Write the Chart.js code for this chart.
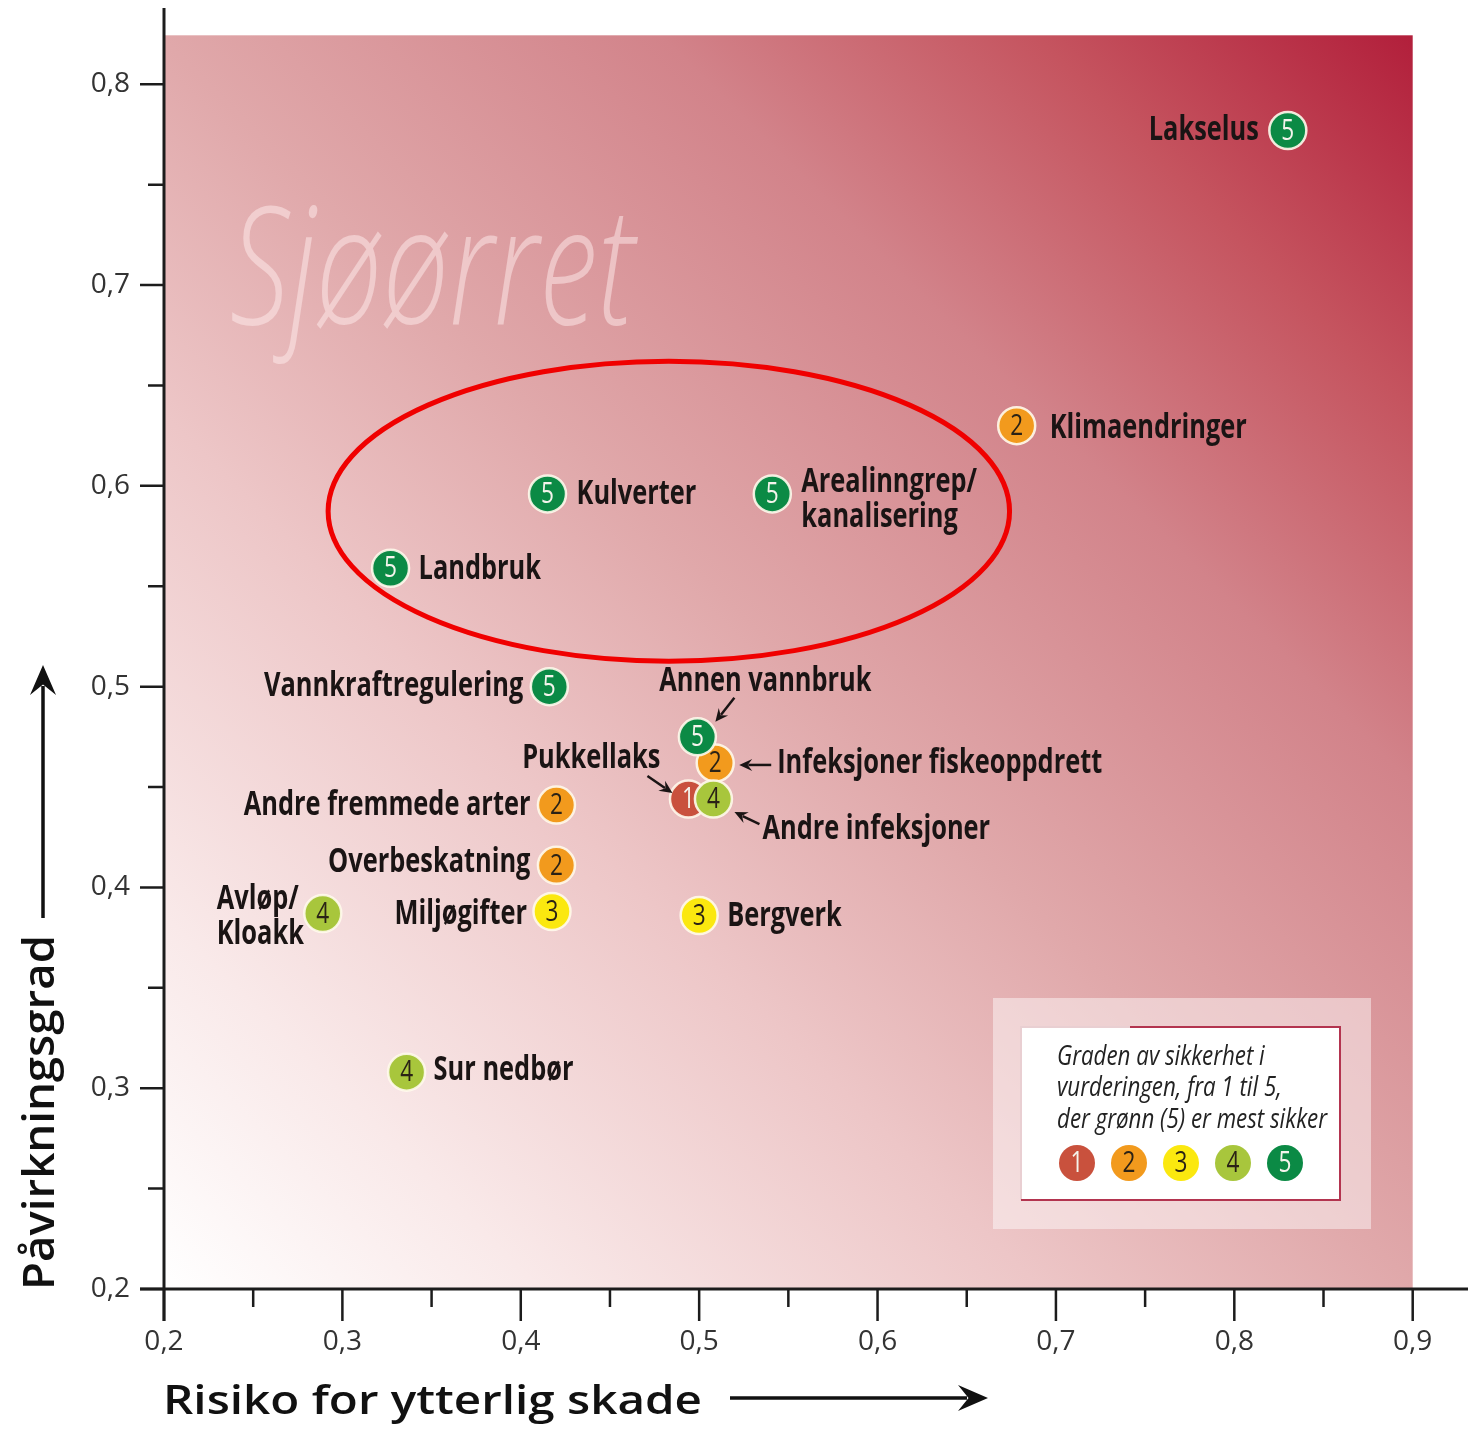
<!DOCTYPE html>
<html>
<head>
<meta charset="utf-8">
<script src="https://cdn.jsdelivr.net/npm/chart.js@4.4.1/dist/chart.umd.min.js"></script>
<style>
  html, body { margin: 0; padding: 0; background: #fff; }
  #chart { display: block; }
</style>
</head>
<body>
<canvas id="chart" width="1468" height="1430"></canvas>
<script>
// --- Data ---
const xTicks = [0.2, 0.3, 0.4, 0.5, 0.6, 0.7, 0.8, 0.9];
const yTicks = [0.2, 0.3, 0.4, 0.5, 0.6, 0.7, 0.8];

const names = [
  'Lakselus', 'Klimaendringer', 'Kulverter', 'Arealinngrep/\nkanalisering', 'Landbruk',
  'Vannkraftregulering', 'Infeksjoner fiskeoppdrett', 'Annen vannbruk', 'Pukkellaks',
  'Andre infeksjoner', 'Andre fremmede arter', 'Overbeskatning', 'Avløp/\nKloakk',
  'Miljøgifter', 'Bergverk', 'Sur nedbør'
];
const risiko = [0.830, 0.678, 0.415, 0.541, 0.327, 0.416, 0.509, 0.499, 0.494, 0.508, 0.420, 0.420, 0.289, 0.4175, 0.500, 0.336];
const pavirkning = [0.777, 0.630, 0.596, 0.596, 0.559, 0.500, 0.462, 0.475, 0.444, 0.444, 0.441, 0.411, 0.387, 0.388, 0.386, 0.308];
const sikkerhet = [5, 2, 5, 5, 5, 5, 2, 5, 1, 4, 2, 2, 4, 3, 3, 4];

const gradeColors = ['#c9513d', '#f29a1d', '#fbe80f', '#a8c63c', '#0b8a45'];
const legendLines = ['Graden av sikkerhet i', 'vurderingen, fra 1 til 5,', 'der grønn (5) er mest sikker'];

const xTitle = 'Risiko for ytterlig skade';
const yTitle = 'Påvirkningsgrad';
const watermark = 'Sjøørret';

// markert område (ellipse), i dataenheter
const ellipse = { x: 0.483, y: 0.5874, rx: 0.191, ry: 0.0747 };

// --- Plassering av etiketter (piksler relativt til punktet) ---
const labelPos = {
  'Lakselus': { dx: -29, dy: 0, align: 'right' },
  'Klimaendringer': { dx: 33, dy: 3, align: 'left' },
  'Kulverter': { dx: 29, dy: 0, align: 'left' },
  'Arealinngrep/\nkanalisering': { dx: 29, dy: -12, align: 'left' },
  'Landbruk': { dx: 28, dy: 1, align: 'left' },
  'Vannkraftregulering': { dx: -26, dy: 0, align: 'right' },
  'Infeksjoner fiskeoppdrett': { dx: 62, dy: 0, align: 'left', arrow: [56, 2, 24, 2] },
  'Annen vannbruk': { dx: 68, dy: -56, align: 'center', arrow: [37, -39, 18, -15] },
  'Pukkellaks': { dx: -28, dy: -41, align: 'right', arrow: [-41, -23, -16, -6] },
  'Andre infeksjoner': { dx: 49, dy: 30, align: 'left', arrow: [46, 25, 21, 13] },
  'Andre fremmede arter': { dx: -26, dy: 0, align: 'right' },
  'Overbeskatning': { dx: -26, dy: -3, align: 'right' },
  'Avløp/\nKloakk': { dx: -106, dy: -14, align: 'left' },
  'Miljøgifter': { dx: -25, dy: 3, align: 'right' },
  'Bergverk': { dx: 28, dy: 1, align: 'left' },
  'Sur nedbør': { dx: 27, dy: -2, align: 'left' }
};

const fmt = v => v.toFixed(1).replace('.', ',');

// Tegner tekst med horisontal skalering (for å etterligne smal skrift)
function drawText(ctx, text, x, y, font, align, sx, color) {
  ctx.save();
  ctx.font = font;
  ctx.fillStyle = color;
  ctx.textAlign = align;
  ctx.textBaseline = 'middle';
  ctx.translate(x, y);
  ctx.scale(sx, 1);
  ctx.fillText(text, 0, 0);
  ctx.restore();
}

function fitScale(ctx, font, text, width) {
  ctx.save();
  ctx.font = font;
  const w = ctx.measureText(text).width;
  ctx.restore();
  return width / w;
}

function drawArrow(ctx, x1, y1, x2, y2, head, half, lw) {
  const a = Math.atan2(y2 - y1, x2 - x1);
  const c = Math.cos(a), s = Math.sin(a);
  ctx.lineWidth = lw;
  ctx.beginPath();
  ctx.moveTo(x1, y1);
  ctx.lineTo(x2 - c * head * 0.7, y2 - s * head * 0.7);
  ctx.stroke();
  ctx.beginPath();
  ctx.moveTo(x2, y2);
  ctx.lineTo(x2 - c * head + s * half, y2 - s * head - c * half);
  ctx.lineTo(x2 - c * head * 0.65, y2 - s * head * 0.65);
  ctx.lineTo(x2 - c * head - s * half, y2 - s * head + c * half);
  ctx.closePath();
  ctx.fill();
}

function drawBadge(ctx, x, y, grade, r) {
  ctx.save();
  ctx.beginPath();
  ctx.arc(x, y, r, 0, Math.PI * 2);
  ctx.fillStyle = gradeColors[grade - 1];
  ctx.fill();
  ctx.restore();
  drawNumber(ctx, x, y, grade);
}

function drawNumber(ctx, x, y, grade) {
  const col = (grade === 1 || grade === 5) ? '#f4f4ec' : '#2a2216';
  drawText(ctx, String(grade), x, y + 1, "29px 'Open Sans'", 'center', 0.78, col);
}

const LABEL_FONT = "bold 34px 'Open Sans'";

// hindrer at Chart.js legger til ekstra marg rundt plottområdet
function pinScale(s, prop, size) {
  s[prop] = size;
  s.paddingTop = 0; s.paddingBottom = 0; s.paddingLeft = 0; s.paddingRight = 0;
}

const decor = {
  id: 'decor',
  beforeDatasetsDraw(chart) {
    const { ctx, scales: { x, y } } = chart;
    const l = x.getPixelForValue(0.2), r = x.getPixelForValue(0.9);
    const b = y.getPixelForValue(0.2), t = y.getPixelForValue(0.8244);

    // bakgrunnsgradient
    const g = ctx.createLinearGradient(l, b, r, t);
    g.addColorStop(0, '#ffffff');
    g.addColorStop(0.15, '#f9e9e9');
    g.addColorStop(0.35, '#edc6c7');
    g.addColorStop(0.5, '#e0a8aa');
    g.addColorStop(0.7, '#d2838a');
    g.addColorStop(0.85, '#c5545f');
    g.addColorStop(1, '#b21f3b');
    ctx.save();
    ctx.fillStyle = g;
    ctx.fillRect(l, t, r - l, b - t);

    // vannmerke
    const wmFont = "italic 300 164px 'Open Sans'";
    const sx = fitScale(ctx, wmFont, watermark, 405);
    ctx.font = wmFont;
    ctx.fillStyle = 'rgba(255, 238, 238, 0.5)';
    ctx.textBaseline = 'alphabetic';
    ctx.translate(230, 324);
    ctx.scale(sx, 1);
    ctx.fillText(watermark, 0, 0);
    ctx.restore();

    // rød ellipse
    ctx.save();
    const cx = x.getPixelForValue(ellipse.x), cy = y.getPixelForValue(ellipse.y);
    const rx = x.getPixelForValue(ellipse.x + ellipse.rx) - cx;
    const ry = cy - y.getPixelForValue(ellipse.y + ellipse.ry);
    ctx.beginPath();
    ctx.ellipse(cx, cy, rx, ry, 0, 0, Math.PI * 2);
    ctx.strokeStyle = '#f00000';
    ctx.lineWidth = 5;
    ctx.stroke();
    ctx.restore();

    // forklaringsboks
    ctx.save();
    ctx.fillStyle = 'rgba(255,255,255,0.45)';
    ctx.fillRect(993, 998, 378, 231);
    ctx.fillStyle = '#ffffff';
    ctx.fillRect(1021, 1027, 319, 173);
    ctx.lineWidth = 2;
    ctx.strokeStyle = '#e9cfd2';
    ctx.beginPath();
    ctx.moveTo(1021, 1200); ctx.lineTo(1021, 1027); ctx.lineTo(1130, 1027);
    ctx.stroke();
    ctx.strokeStyle = '#b3344f';
    ctx.beginPath();
    ctx.moveTo(1130, 1027); ctx.lineTo(1340, 1027); ctx.lineTo(1340, 1200); ctx.lineTo(1021, 1200);
    ctx.stroke();
    ctx.restore();

    const lgFont = "italic 27px 'Open Sans'";
    const lsx = fitScale(ctx, lgFont, legendLines[2], 270);
    legendLines.forEach((txt, i) => {
      drawText(ctx, txt, 1057, 1057 + i * 31.5, lgFont, 'left', lsx, '#222');
    });
    gradeColors.forEach((c, i) => drawBadge(ctx, 1077 + i * 52, 1163, i + 1, 18));
  },

  afterDatasetsDraw(chart) {
    const { ctx } = chart;
    const meta = chart.getDatasetMeta(0);
    const lsx = fitScale(ctx, LABEL_FONT, 'Infeksjoner fiskeoppdrett', 325);
    ctx.save();
    ctx.fillStyle = '#1a1414';
    ctx.strokeStyle = '#1a1414';
    meta.data.forEach((pt, i) => {
      drawNumber(ctx, pt.x, pt.y, sikkerhet[i]);
      const p = labelPos[names[i]];
      if (!p) return;
      names[i].split('\n').forEach((line, k) => {
        drawText(ctx, line, pt.x + p.dx, pt.y + p.dy + k * 35, LABEL_FONT, p.align, lsx, '#1a1414');
      });
      if (p.arrow) {
        const a = p.arrow;
        drawArrow(ctx, pt.x + a[0], pt.y + a[1], pt.x + a[2], pt.y + a[3], 13, 6, 2.5);
      }
    });
    ctx.restore();
  },

  afterDraw(chart) {
    const { ctx, scales: { x, y } } = chart;
    const x0 = x.getPixelForValue(xTicks[0]);
    const y0 = y.getPixelForValue(yTicks[0]);
    ctx.save();
    ctx.strokeStyle = '#1c1c1c';
    ctx.fillStyle = '#111';
    ctx.lineWidth = 3;
    // akser
    ctx.beginPath();
    ctx.moveTo(x0, chart.chartArea.top);
    ctx.lineTo(x0, y0 + 32);
    ctx.moveTo(x0 - 24, y0);
    ctx.lineTo(chart.chartArea.right, y0);
    ctx.stroke();
    // hake-merker
    ctx.lineWidth = 2.5;
    ctx.beginPath();
    yTicks.forEach((v, i) => {
      const py = y.getPixelForValue(v);
      ctx.moveTo(x0 - 24, py); ctx.lineTo(x0, py);
      if (i < yTicks.length - 1) {
        const pm = y.getPixelForValue((v + yTicks[i + 1]) / 2);
        ctx.moveTo(x0 - 16, pm); ctx.lineTo(x0, pm);
      }
    });
    xTicks.forEach((v, i) => {
      const px = x.getPixelForValue(v);
      ctx.moveTo(px, y0); ctx.lineTo(px, y0 + 32);
      if (i < xTicks.length - 1) {
        const pm = x.getPixelForValue((v + xTicks[i + 1]) / 2);
        ctx.moveTo(pm, y0); ctx.lineTo(pm, y0 + 18);
      }
    });
    ctx.stroke();
    ctx.restore();

    // aksetitler med piler
    const xtFont = "600 40px 'Open Sans'";
    drawText(ctx, xTitle, 163, 1403, xtFont, 'left', fitScale(ctx, xtFont, xTitle, 539), '#111');
    ctx.save();
    ctx.strokeStyle = '#111';
    ctx.fillStyle = '#111';
    drawArrow(ctx, 730, 1398, 988, 1398, 30, 13, 3.5);
    drawArrow(ctx, 43, 918, 43, 665, 30, 13, 3.5);
    ctx.restore();

    const ytFont = "600 44px 'Open Sans'";
    ctx.save();
    ctx.translate(41, 1290);
    ctx.rotate(-Math.PI / 2);
    drawText(ctx, yTitle, 0, 0, ytFont, 'left', fitScale(ctx, ytFont, yTitle, 355), '#111');
    ctx.restore();
  }
};

new Chart(document.getElementById('chart'), {
  type: 'scatter',
  data: {
    datasets: [{
      label: 'Påvirkninger',
      data: risiko.map((v, i) => ({ x: v, y: pavirkning[i] })),
      backgroundColor: sikkerhet.map(g => gradeColors[g - 1]),
      borderColor: 'rgba(255, 250, 236, 0.9)',
      borderWidth: 2.5,
      pointRadius: 18.5,
      pointHoverRadius: 18.5
    }]
  },
  options: {
    responsive: false,
    animation: false,
    layout: { autoPadding: false, padding: { top: 8, right: 0, left: 0, bottom: 0 } },
    plugins: {
      legend: { display: false },
      tooltip: { enabled: false }
    },
    scales: {
      x: {
        type: 'linear',
        min: 0.2,
        max: 0.931,
        afterBuildTicks: s => { s.ticks = xTicks.map(v => ({ value: v })); },
        afterFit: s => pinScale(s, 'height', 141),
        grid: { display: false, drawTicks: false },
        border: { display: false },
        ticks: {
          callback: v => fmt(v),
          color: '#333',
          font: { family: 'Open Sans', size: 28 },
          padding: 36,
          maxRotation: 0
        }
      },
      y: {
        type: 'linear',
        min: 0.2,
        max: 0.838,
        afterBuildTicks: s => { s.ticks = yTicks.map(v => ({ value: v })); },
        afterFit: s => pinScale(s, 'width', 164),
        grid: { display: false, drawTicks: false },
        border: { display: false },
        ticks: {
          callback: v => fmt(v),
          color: '#333',
          font: { family: 'Open Sans', size: 28 },
          padding: 34
        }
      }
    }
  },
  plugins: [decor]
});
</script>
</body>
</html>
